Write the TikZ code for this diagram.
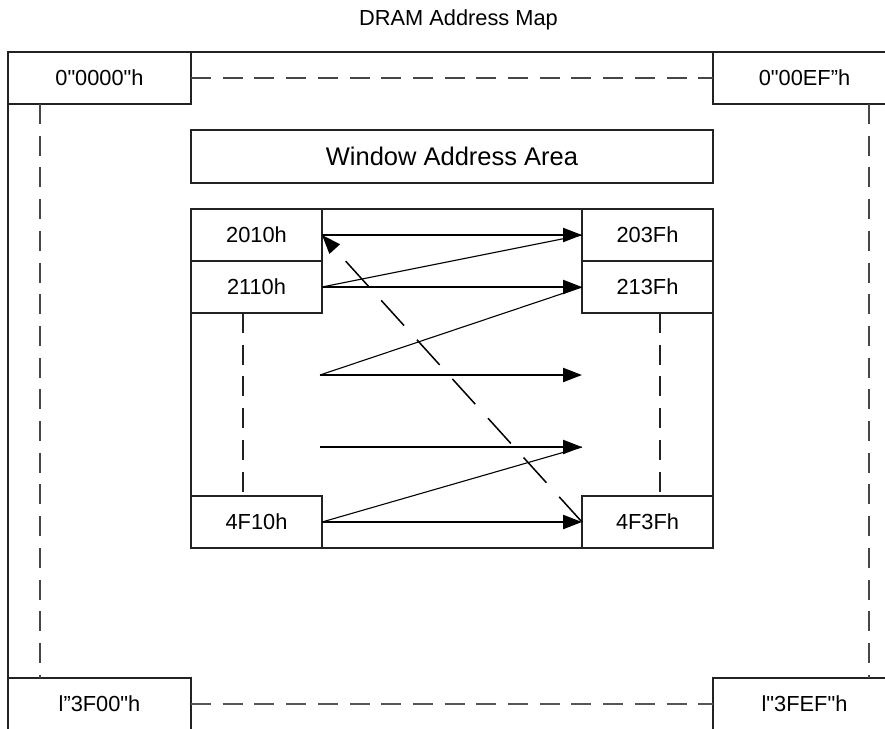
\documentclass[tikz,border=0pt]{standalone}
\usepackage{fontspec}
\newfontfamily\lab{Liberation Sans}
\usetikzlibrary{arrows.meta}
\definecolor{boxline}{RGB}{34,34,34}
\definecolor{dashgray}{RGB}{70,70,70}
\definecolor{dashgraylight}{RGB}{85,85,85}
\begin{document}
\begin{tikzpicture}[x=0.5pt,y=-0.5pt,
  lbl/.style={font=\lab\fontsize{10.9}{13}\selectfont},
  box/.style={draw=boxline, line width=0.65pt, inner sep=0pt, outer sep=0pt, lbl},
  corner/.style={box, minimum width=91.5pt, minimum height=26pt},
  addr/.style={box, minimum width=65.5pt, minimum height=26pt},
  dsh/.style={draw=dashgray, line width=0.65pt, dash pattern=on 10pt off 5.85pt},
  thickarrow/.style={line width=1.15pt, -{Triangle[length=9.5pt,width=7pt]}},
  thinline/.style={line width=0.55pt},
  backarrow/.style={line width=0.75pt, dash pattern=on 17pt off 9.5pt, -{Triangle[length=9.5pt,width=7pt]}}
]
\clip (0,0) rectangle (885,729);
\fill[white] (0,0) rectangle (885,729);

% title
\node[lbl, anchor=base, inner sep=0pt] (title) at (458.5,25.7) {DRAM Address Map};

% outer frame
\draw[boxline, line width=0.65pt] (8,52) rectangle (896,745);

% corner boxes
\node[corner] (tl) at (99.5,78) {0"0000"h};
\node[corner] (tr) at (804.5,78) {0"00EF”h};
\node[corner] (bl) at (99.5,704) {l”3F00"h};
\node[corner] (br) at (804.5,704) {l"3FEF"h};

% outer dashed connections
\draw[dsh] (tl.east) -- (tr.west);
\draw[dsh, draw=dashgraylight, line width=1pt] (bl.east) -- (br.west);
\draw[dsh] ([xshift=16pt]tl.south west) -- ([xshift=16pt]bl.north west);
\draw[dsh] ([xshift=-13.5pt]tr.south east) -- ([xshift=-13.5pt]br.north east);

% window address area
\node[box, minimum width=261pt, minimum height=26.5pt, font=\lab\fontsize{12.75}{15}\selectfont] (win) at (452,156.5) {Window Address Area};

% inner area
\node[box, minimum width=261pt, minimum height=169.5pt] (inner) at (452,378.5) {};

% address boxes
\node[addr] (a2010) at (256.5,235) {2010h};
\node[addr] (a2110) at (256.5,287) {2110h};
\node[addr] (a4F10) at (256.5,522) {4F10h};
\node[addr] (b203F) at (647.5,235) {203Fh};
\node[addr] (b213F) at (647.5,287) {213Fh};
\node[addr] (b4F3F) at (647.5,522) {4F3Fh};

% inner dashed verticals
\draw[dsh, draw=boxline, line width=0.55pt] ([xshift=26pt]a2110.south west) -- ([xshift=26pt]a4F10.north west);
\draw[dsh, draw=boxline, line width=0.55pt] ([xshift=-26.5pt]b213F.south east) -- ([xshift=-26.5pt]b4F3F.north east);

% free ends
\coordinate (s1) at (320,375);
\coordinate (e1) at (582,375);
\coordinate (s2) at (320,447);
\coordinate (e2) at (582,447);

% thick arrows
\draw[thickarrow] (a2010.east) -- (b203F.west);
\draw[thickarrow] (a2110.east) -- (b213F.west);
\draw[thickarrow] (s1) -- (e1);
\draw[thickarrow] (s2) -- (e2);
\draw[thickarrow] (a4F10.east) -- (b4F3F.west);

% thin returns
\draw[thinline] (a2110.east) -- (b203F.west);
\draw[thinline] (s1) -- (b213F.west);
\draw[thinline] (a4F10.east) -- (e2);

% dashed return arrow
\draw[backarrow] (b4F3F.west) -- (a2010.east);
\end{tikzpicture}
\end{document}
